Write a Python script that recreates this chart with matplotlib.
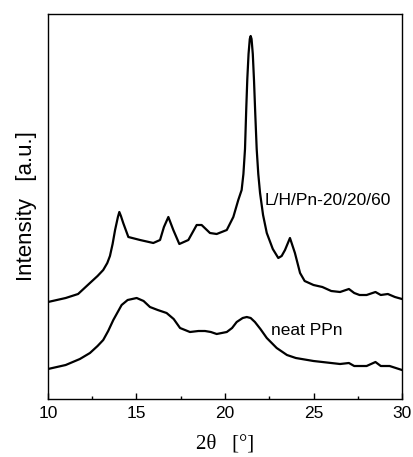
import matplotlib.pyplot as plt
from matplotlib.ticker import MultipleLocator

# 2theta positions and intensities (a.u.)
x_blend = [10, 11, 11.7, 12.37, 12.8, 13.12, 13.35, 13.5, 13.65, 13.79, 13.95, 14.03,
           14.12, 14.25, 14.54, 15.2, 15.95, 16.33, 16.55, 16.8, 17.08, 17.42, 17.93,
           18.4, 18.68, 19.15, 19.53, 20.1, 20.47, 20.75, 20.94, 21.04, 21.13, 21.2,
           21.26, 21.33, 21.4, 21.45, 21.5, 21.57, 21.64, 21.71, 21.79, 21.88, 21.98,
           22.15, 22.36, 22.7, 23.01, 23.2, 23.39, 23.67, 23.95, 24.24, 24.5, 25, 25.5,
           26, 26.5, 27, 27.3, 27.6, 28, 28.5, 28.8, 29.2, 29.6, 30]
y_blend = [97, 101, 105, 116, 123, 129, 136, 143, 155, 169, 182, 187,
           183, 176, 162, 159, 156, 159, 172, 182, 169, 155, 159,
           174, 174, 166, 165, 169, 182, 199, 209, 225, 250, 290,
           320, 345, 360, 363, 360, 345, 318, 285, 250, 225, 206,
           184, 166, 150, 141, 143, 149, 161, 146, 126, 118, 114, 112,
           108, 107, 110, 106, 104, 104, 107, 104, 105, 102, 100]

x_neat = [10, 11, 11.8, 12.37, 12.8, 13.12, 13.4, 13.69, 14.16, 14.5, 15.01, 15.4,
          15.76, 16.2, 16.7, 17.1, 17.46, 18.02, 18.5, 18.87, 19.2, 19.53, 20.1, 20.4,
          20.66, 21.0, 21.23, 21.45, 21.69, 22.0, 22.36, 22.92, 23.5, 24, 25, 26, 26.5,
          27, 27.3, 28, 28.5, 28.8, 29.3, 30]
y_neat = [30, 34, 40, 46, 53, 59, 68, 79, 94, 99, 101, 98,
          92, 89, 86, 80, 71, 67, 68, 68, 67, 65, 67, 71,
          77, 81, 82, 81, 77, 70, 61, 51, 44, 41, 38, 36, 35,
          36, 33, 33, 37, 33, 33, 29]

fig = plt.figure(figsize=(4.13, 4.57), dpi=100)
ax = fig.add_axes([0.1162, 0.1269, 0.8572, 0.8425])

ax.plot(x_blend, y_blend, color='black', lw=1.6)
ax.plot(x_neat, y_neat, color='black', lw=1.6)

ax.text(22.25, 198, 'L/H/Pn-20/20/60', fontsize=12.5, family='Liberation Sans', va='center')
ax.text(22.6, 69, 'neat PPn', fontsize=12.5, family='Liberation Sans', va='center')

ax.set_xlim(10, 30)
ax.set_ylim(0, 385)
ax.xaxis.set_major_locator(MultipleLocator(5))
ax.xaxis.set_minor_locator(MultipleLocator(2.5))
ax.tick_params(axis='x', which='major', direction='in', length=4, width=1, pad=5)
ax.tick_params(axis='x', which='minor', direction='in', length=2, width=1)
ax.set_yticks([])
for lab in ax.get_xticklabels():
    lab.set_family('Liberation Sans')
    lab.set_fontsize(12.5)
for s in ax.spines.values():
    s.set_linewidth(1)

ax.set_ylabel('Intensity\u2002 [a.u.]', fontsize=16, family='Liberation Sans', labelpad=8)
ax.set_xlabel('2\u03b8\u2002 [°]', fontsize=15, family='Liberation Serif', labelpad=10)

fig.savefig('out.png', dpi=100)
